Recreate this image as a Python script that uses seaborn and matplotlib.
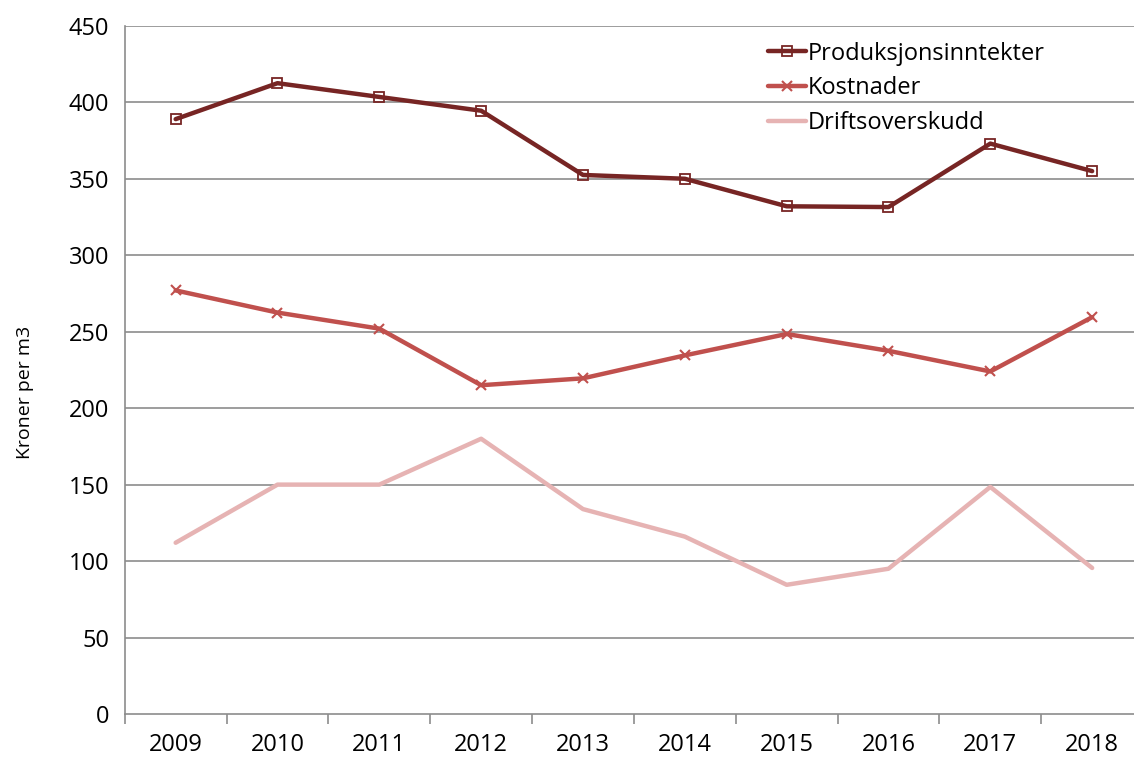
import numpy as np
import pandas as pd
import matplotlib.pyplot as plt
import seaborn as sns

years = ['2009', '2010', '2011', '2012', '2013', '2014', '2015', '2016', '2017', '2018']
produksjon = [389, 412.5, 403.5, 394.5, 352.5, 350, 332, 331.5, 373, 355]
kostnader = [277, 262.5, 252, 215, 219.5, 234.5, 248.5, 237.5, 224, 259.5]
drift = [112, 150, 150, 180, 134, 116, 84.5, 95, 148.5, 95.5]

df = pd.DataFrame({'pos': np.arange(len(years)),
                   'Produksjonsinntekter': produksjon,
                   'Kostnader': kostnader,
                   'Driftsoverskudd': drift})

sns.set_style('white')
plt.rcParams['font.family'] = ['Open Sans', 'DejaVu Sans']
plt.rcParams['text.color'] = 'black'
plt.rcParams['axes.labelcolor'] = 'black'
plt.rcParams['xtick.color'] = 'black'
plt.rcParams['ytick.color'] = 'black'

fig = plt.figure(figsize=(11.34, 7.6), dpi=100)
ax = fig.add_axes([0.110, 0.0605, 0.898, 0.9055])

# gridlines
for v in range(50, 451, 50):
    ax.axhline(v, color='#8c8c8c', lw=1.2, zorder=0)

sns.lineplot(data=df, x='pos', y='Produksjonsinntekter', ax=ax, color='#772524', lw=3.2,
             marker='s', markersize=6.5, markerfacecolor='none', markeredgecolor='#772524',
             markeredgewidth=1.3, label='Produksjonsinntekter')
sns.lineplot(data=df, x='pos', y='Kostnader', ax=ax, color='#c0504d', lw=3.2,
             marker='x', markersize=7, markeredgecolor='#c0504d', markeredgewidth=1.5,
             label='Kostnader')
sns.lineplot(data=df, x='pos', y='Driftsoverskudd', ax=ax, color='#e6b3b3', lw=3.2,
             label='Driftsoverskudd')

ax.set_xlim(-0.5, len(years) - 0.5)
ax.set_ylim(0, 450)
ax.set_yticks(range(0, 451, 50))
ax.set_xticks(np.arange(len(years)))
ax.set_xticklabels(years)
ax.set_xticks(np.arange(-0.5, len(years), 1), minor=True)
ax.tick_params(axis='x', which='major', bottom=False, length=0, pad=14, labelsize=17)
ax.tick_params(axis='x', which='minor', bottom=True, length=7, color='#8c8c8c',
               direction='out', width=1.2)
ax.tick_params(axis='y', length=0, labelsize=17, pad=11)
ax.set_xlabel('')
ax.set_ylabel('Kroner per m3', fontsize=14)
ax.yaxis.set_label_coords(-0.089, 0.468)

for s in ['top', 'right']:
    ax.spines[s].set_visible(False)
for s in ['left', 'bottom']:
    ax.spines[s].set_color('#8c8c8c')
    ax.spines[s].set_linewidth(1.2)

leg = ax.legend(loc='upper left', bbox_to_anchor=(0.632, 0.977), frameon=False, fontsize=17,
                handlelength=1.6, handletextpad=0.05, labelspacing=0.45,
                borderaxespad=0, borderpad=0)

fig.savefig('out.png', dpi=100)
